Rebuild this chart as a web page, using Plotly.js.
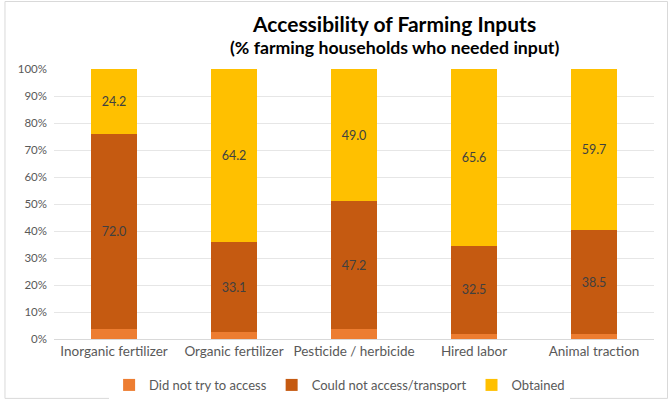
<!DOCTYPE html>
<html><head><meta charset="utf-8">
<script src="https://cdn.plot.ly/plotly-3.0.1.min.js"></script>
<style>html,body{margin:0;padding:0;background:#fff;}#c{width:670px;height:401px;}</style>
</head><body><div id="c"></div>
<script>
var categories = ["Inorganic fertilizer","Organic fertilizer","Pesticide / herbicide","Hired labor","Animal traction"];
var didNotTry = [3.8, 2.7, 3.8, 1.9, 1.8];
var couldNot = [72.0, 33.1, 47.2, 32.5, 38.5];
var obtained = [24.2, 64.2, 49.0, 65.6, 59.7];
var yTicks = [0,10,20,30,40,50,60,70,80,90,100];
var yTickText = yTicks.map(function(v){return v+"%";});

var fontFam = "Lato, 'Open Sans', sans-serif";
function bar(name, vals, color, showText){
  return {
    type:"bar", name:name, x:categories, y:vals,
    marker:{color:color, line:{width:0}},
    text: showText ? vals.map(function(v){return v.toFixed(1);}) : null,
    textposition: showText ? "inside" : "none",
    insidetextanchor:"middle", textangle:0, constraintext:"none",
    textfont:{family:fontFam, size:12.5, color:"#404040"},
    hoverinfo:"none"
  };
}
var data = [
  bar("Did not try to access", didNotTry, "#ED7D31", false),
  bar("Could not access/transport", couldNot, "#C55A11", true),
  bar("Obtained", obtained, "#FFC000", true)
];
var layout = {
  width:670, height:401, barmode:"stack", bargap:0.61,
  margin:{l:54, r:16, t:69, b:62},
  paper_bgcolor:"#fff", plot_bgcolor:"#fff",
  font:{family:fontFam, color:"#595959"},
  xaxis:{tickfont:{size:13.5, color:"#595959"}, showline:true, linecolor:"#d9d9d9", ticks:"", fixedrange:true, automargin:false},
  yaxis:{range:[0,100], tickvals:yTicks, ticktext:yTickText, tickfont:{size:11.5, color:"#595959"},
    gridcolor:"#e6e6e6", zeroline:false, showline:false, ticks:"", ticklabelstandoff:6, fixedrange:true, automargin:false},
  legend:{orientation:"h", x:0.476, xanchor:"center", xref:"paper", yref:"container", y:0.04, yanchor:"middle",
    font:{size:13, color:"#595959"}, traceorder:"normal", itemwidth:30, tracegroupgap:0},
  showlegend:true,
  annotations:[
    {text:"<b>Accessibility of Farming Inputs</b>", xref:"paper", yref:"paper", x:(394-54)/600, y:(339-24)/270,
      xanchor:"center", yanchor:"middle", showarrow:false, font:{family:fontFam, size:21, color:"#000"}},
    {text:"<b>(% farming households who needed input)</b>", xref:"paper", yref:"paper", x:(394-54)/600, y:(339-47)/270,
      xanchor:"center", yanchor:"middle", showarrow:false, font:{family:fontFam, size:17.7, color:"#000"}}
  ],
  shapes:[{type:"rect", xref:"paper", yref:"paper", x0:-0.0817, x1:1.0225, y0:-0.22, y1:1.25,
    line:{color:"#d9d9d9", width:1}, layer:"below"}]
};
Plotly.newPlot("c", data, layout, {displayModeBar:false, staticPlot:true});
</script></body></html>
